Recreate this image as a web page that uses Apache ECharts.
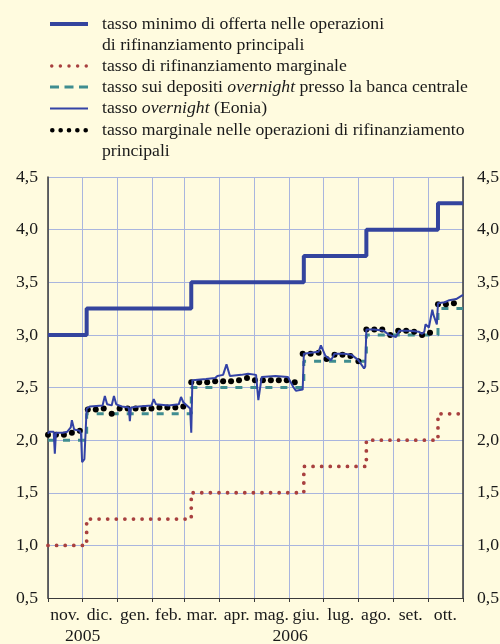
<!DOCTYPE html>
<html><head><meta charset="utf-8">
<script src="https://cdn.jsdelivr.net/npm/echarts@6/dist/echarts.min.js"></script>
<style>html,body{margin:0;padding:0;background:#FFFBDF}#c{width:500px;height:644px}</style>
</head><body><div id="c"></div>
<script>
// ---- tick labels / categories ----
const monthLabels = ['nov.','dic.','gen.','feb.','mar.','apr.','mag.','giu.','lug.','ago.','set.','ott.'];
const monthStarts = ['2005-11-01','2005-12-01','2006-01-01','2006-02-01','2006-03-01','2006-04-01','2006-05-01',
  '2006-06-01','2006-07-01','2006-08-01','2006-09-01','2006-10-01','2006-11-01'];
const yearLabels = ['2005','2006'];
const yearSpans = [['2005-11-01','2006-01-01'],['2006-01-01','2006-11-01']];

// ---- policy rates (step changes) ----
const rateChangeDates = ['2005-11-01','2005-12-05','2006-03-07','2006-06-14','2006-08-08','2006-10-10','2006-11-01'];
const minBidRate      = [3.00, 3.25, 3.50, 3.75, 4.00, 4.25, 4.25];
const marginalLending = [1.00, 1.25, 1.50, 1.75, 2.00, 2.25, 2.25];
const depositRate     = [2.00, 2.25, 2.50, 2.75, 3.00, 3.25, 3.25];

// ---- Eonia ----
const eoniaDates = ['2005-11-01','2005-11-02','2005-11-06','2005-11-07','2005-11-08','2005-11-14','2005-11-18',
  '2005-11-21','2005-11-22','2005-11-24','2005-11-29','2005-11-30','2005-12-01','2005-12-03','2005-12-05',
  '2005-12-08','2005-12-19','2005-12-21','2005-12-23','2005-12-27','2005-12-29','2005-12-31','2006-01-05',
  '2006-01-11','2006-01-12','2006-01-13','2006-01-20','2006-01-31','2006-02-02','2006-02-04','2006-02-15',
  '2006-02-24','2006-02-26','2006-02-28','2006-03-06','2006-03-07','2006-03-08','2006-03-20','2006-03-28',
  '2006-03-30','2006-04-04','2006-04-07','2006-04-10','2006-04-20','2006-04-26','2006-05-03','2006-05-05',
  '2006-05-08','2006-05-20','2006-05-31','2006-06-05','2006-06-07','2006-06-13','2006-06-14','2006-06-20',
  '2006-06-27','2006-06-29','2006-07-03','2006-07-08','2006-07-11','2006-07-20','2006-07-26','2006-08-01',
  '2006-08-06','2006-08-07','2006-08-08','2006-08-15','2006-08-23','2006-08-28','2006-09-03','2006-09-06',
  '2006-09-15','2006-09-23','2006-09-26','2006-09-28','2006-09-29','2006-10-02','2006-10-05','2006-10-06',
  '2006-10-09','2006-10-10','2006-10-16','2006-10-20','2006-10-26','2006-11-01'];
const eoniaValues = [2.06,2.08,2.08,1.87,2.07,2.07,2.08,
  2.12,2.19,2.10,2.09,2.06,1.79,1.82,2.30,
  2.32,2.33,2.42,2.34,2.33,2.42,2.34,2.32,
  2.31,2.18,2.31,2.32,2.33,2.39,2.34,2.33,
  2.34,2.41,2.36,2.30,2.07,2.57,2.58,2.59,
  2.61,2.62,2.72,2.61,2.62,2.63,2.62,2.38,
  2.60,2.61,2.60,2.50,2.47,2.48,2.82,2.83,
  2.84,2.90,2.80,2.76,2.82,2.82,2.81,2.76,
  2.68,2.70,3.05,3.05,3.04,3.00,2.98,3.04,
  3.04,3.03,3.01,3.03,3.10,3.07,3.24,3.19,
  3.10,3.30,3.31,3.33,3.34,3.38];

// ---- marginal rate of main refinancing operations (weekly) ----
const auctionDates = ['2005-11-01','2005-11-08','2005-11-15','2005-11-22','2005-11-29',
  '2005-12-06','2005-12-13','2005-12-20','2005-12-27',
  '2006-01-03','2006-01-10','2006-01-17','2006-01-24','2006-01-31',
  '2006-02-07','2006-02-14','2006-02-21','2006-02-28',
  '2006-03-07','2006-03-14','2006-03-21','2006-03-28',
  '2006-04-04','2006-04-11','2006-04-18','2006-04-25',
  '2006-05-02','2006-05-09','2006-05-16','2006-05-23','2006-05-30',
  '2006-06-06','2006-06-13','2006-06-20','2006-06-27',
  '2006-07-04','2006-07-11','2006-07-18','2006-07-25',
  '2006-08-01','2006-08-08','2006-08-15','2006-08-22','2006-08-29',
  '2006-09-05','2006-09-12','2006-09-19','2006-09-26',
  '2006-10-03','2006-10-10','2006-10-17','2006-10-24'];
const marginalMRO = [2.05,2.05,2.05,2.07,2.09,
  2.29,2.29,2.30,2.25,
  2.30,2.30,2.30,2.30,2.30,
  2.31,2.31,2.31,2.32,
  2.55,2.55,2.55,2.56,
  2.56,2.56,2.57,2.59,
  2.57,2.57,2.57,2.57,2.57,
  2.55,2.82,2.82,2.83,
  2.77,2.81,2.81,2.80,
  2.75,3.05,3.05,3.05,3.00,
  3.04,3.04,3.03,3.00,
  3.02,3.29,3.29,3.30];

// ---- series names ----
const nameA = 'tasso minimo di offerta nelle operazioni di rifinanziamento principali';
const nameB = 'tasso di rifinanziamento marginale';
const nameC = 'tasso sui depositi overnight presso la banca centrale';
const nameD = 'tasso overnight (Eonia)';
const nameE = 'tasso marginale nelle operazioni di rifinanziamento principali';

function ts(s){ const p=s.split('-').map(Number); return new Date(p[0],p[1]-1,p[2]).getTime(); }
function pairs(dates, vals){ return dates.map((d,i)=>[ts(d), vals[i]]); }

const monthTs = monthStarts.map(ts);
const monthMids = monthTs.slice(0,-1).map((t,i)=>(t+monthTs[i+1])/2);
const yearCenters = yearSpans.map(s=>(ts(s[0])+ts(s[1]))/2);

const FONT = 'Liberation Serif';
const FS = 17.7;
const TXT = '#1a1a1a';
const GRID = '#A9B5DE';
const AXIS = '#3a3a3a';

function dotsPath(n, r, width, extraH){
  const step = (width - 2*r)/(n-1);
  let p = 'path://';
  for(let k=0;k<n;k++){
    const cx = r + k*step;
    p += 'M'+(cx-r)+','+r+'a'+r+','+r+' 0 1,0 '+(2*r)+',0a'+r+','+r+' 0 1,0 '+(-2*r)+',0z';
  }
  if(extraH) p += 'M0,'+extraH+'h0.01v-0.01z';
  return p;
}

function leg(name, top, icon, h, text){
  return {
    data:[name], top: top, left: 50, padding: 0, itemWidth: 38, itemHeight: h, icon: icon,
    selectedMode: false, itemStyle: {borderWidth: 0, opacity: 1},
    formatter: function(){ return text; },
    textStyle: {fontFamily: FONT, fontSize: FS, color: TXT, lineHeight: 21, padding: [0,0,0,9],
      rich: {i: {fontFamily: FONT, fontSize: FS, color: TXT, fontStyle: 'italic', lineHeight: 21}}}
  };
}

const xMin = monthTs[0], xMax = monthTs[monthTs.length-1];

const chart = echarts.init(document.getElementById('c'), null, {renderer: 'canvas'});
chart.setOption({
  animation: false,
  backgroundColor: '#FFFBDF',
  legend: [
    leg(nameA, 13.5, 'path://M0,0h38v4h-38zM0,25h0.01v-0.01z', 25,
        'tasso minimo di offerta nelle operazioni\ndi rifinanziamento principali'),
    leg(nameB, 55.5, dotsPath(5, 1.75, 38, 0), 3.5, 'tasso di rifinanziamento marginale'),
    leg(nameC, 76.5, 'path://M0,0h9v3h-9zM14.5,0h9v3h-9zM29,0h9v3h-9z', 3,
        'tasso sui depositi {i|overnight} presso la banca centrale'),
    leg(nameD, 98, 'path://M0,0h38v2h-38z', 2, 'tasso {i|overnight} (Eonia)'),
    leg(nameE, 119.5, dotsPath(5, 2.3, 38, 25), 25,
        'tasso marginale nelle operazioni di rifinanziamento\nprincipali')
  ],
  grid: {left: 48, right: 37, top: 177, bottom: 46, containLabel: false, outerBoundsMode: 'none'},
  xAxis: [{
    type: 'value', min: xMin, max: xMax, position: 'bottom', scale: true,
    axisLine: {show: true, lineStyle: {color: AXIS, width: 1}},
    axisTick: {show: true, length: 4, inside: false, customValues: monthTs, lineStyle: {color: AXIS}},
    splitLine: {show: true, lineStyle: {color: GRID, width: 1}},
    axisLabel: {customValues: monthMids, margin: 8, fontFamily: FONT, fontSize: FS, color: TXT,
      formatter: function(v){ const m = new Date(v).getMonth(); return monthLabels[(m + 2) % 12]; }}
  },{
    type: 'value', min: xMin, max: xMax, position: 'bottom', offset: 21, scale: true,
    axisLine: {show: false}, axisTick: {show: false}, splitLine: {show: false},
    axisLabel: {customValues: yearCenters, margin: 8, fontFamily: FONT, fontSize: FS, color: TXT,
      formatter: function(v){ return yearLabels[yearCenters.indexOf(v)] || String(new Date(v).getFullYear()); }}
  }],
  yAxis: [{
    type: 'value', min: 0.5, max: 4.5, interval: 0.5, position: 'left',
    axisLine: {show: true, lineStyle: {color: AXIS, width: 1.5}},
    axisTick: {show: false},
    splitLine: {show: true, lineStyle: {color: GRID, width: 1}},
    axisLabel: {margin: 10, fontFamily: FONT, fontSize: FS, color: TXT,
      formatter: v => v.toFixed(1).replace('.', ',')}
  },{
    type: 'value', min: 0.5, max: 4.5, interval: 0.5, position: 'right',
    axisLine: {show: true, lineStyle: {color: AXIS, width: 1.5}},
    axisTick: {show: false}, splitLine: {show: false},
    axisLabel: {margin: 14, fontFamily: FONT, fontSize: FS, color: TXT,
      formatter: v => v.toFixed(1).replace('.', ',')}
  }],
  series: [
    {name: nameC, type: 'line', step: 'end', symbol: 'none', z: 2,
     data: pairs(rateChangeDates, depositRate),
     itemStyle: {color: '#3F8D90'}, lineStyle: {color: '#3F8D90', width: 3, type: [7, 8]}},
    {name: nameB, type: 'line', step: 'end', symbol: 'none', z: 2,
     data: pairs(rateChangeDates, marginalLending),
     itemStyle: {color: '#A8403F'}, lineStyle: {color: '#A8403F', width: 3.8, type: [0, 8.6], cap: 'round'}},
    {name: nameE, type: 'scatter', symbol: 'circle', symbolSize: 6, z: 3,
     data: pairs(auctionDates, marginalMRO), itemStyle: {color: '#000000', opacity: 1}},
    {name: nameD, type: 'line', symbol: 'none', z: 4,
     data: pairs(eoniaDates, eoniaValues),
     itemStyle: {color: '#3443A6'}, lineStyle: {color: '#3443A6', width: 2}},
    {name: nameA, type: 'line', step: 'end', symbol: 'none', z: 5,
     data: pairs(rateChangeDates, minBidRate),
     itemStyle: {color: '#34449E'}, lineStyle: {color: '#34449E', width: 4}}
  ]
});
</script></body></html>
